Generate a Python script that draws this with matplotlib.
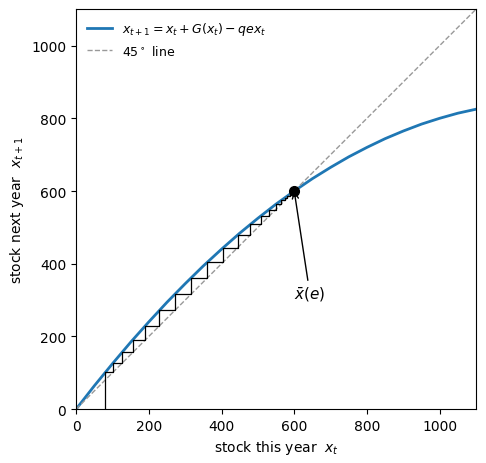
import matplotlib
matplotlib.use("Agg")
import matplotlib.pyplot as plt

# stock values, every 50 units
stock_now = [0, 50, 100, 150, 200, 250, 300, 350, 400, 450, 500, 550,
             600, 650, 700, 750, 800, 850, 900, 950, 1000, 1050, 1100]
stock_next = [0, 64, 125, 184, 240, 294, 345, 394, 440, 484, 525, 564,
              600, 634, 665, 694, 720, 744, 765, 784, 800, 814, 825]

# stock path of the staircase, year by year
path = [80, 101, 126, 156, 190, 229, 272, 317, 361, 405, 444, 479, 508,
        531, 549, 563, 574, 581, 587, 591, 593, 595, 597, 598, 599]

steady_state = 600
diag = [0, 1100]


def stair_points(values):
    xs = [values[0]]
    ys = [0]
    for i in range(len(values) - 1):
        xs.append(values[i])
        ys.append(values[i + 1])
        xs.append(values[i + 1])
        ys.append(values[i + 1])
    return xs, ys


fig, ax = plt.subplots(figsize=(4.86, 4.64), dpi=100)

ax.plot(stock_now, stock_next, color="#1f77b4", lw=2,
        label=r"$x_{t+1} = x_t + G(x_t) - qex_t$")
ax.plot(diag, diag, "--", color="0.6", lw=1, label=r"45$^\circ$ line")

sx, sy = stair_points(path)
ax.plot(sx, sy, color="k", lw=0.9)

ax.plot(steady_state, steady_state, "o", color="k", ms=7, zorder=5)
ax.annotate(r"$\bar{x}(e)$", xy=(steady_state, steady_state),
            xytext=(643, 318), ha="center", va="center", fontsize=11,
            arrowprops=dict(arrowstyle="->", color="k", lw=1,
                            shrinkA=1, shrinkB=0))

ax.set_xlim(0, 1100)
ax.set_ylim(0, 1100)
ax.set_aspect("equal")
ax.set_xlabel(r"stock this year  $x_t$")
ax.set_ylabel(r"stock next year  $x_{t+1}$")
ax.legend(loc="upper left", frameon=False, fontsize=9)

fig.subplots_adjust(left=0.156, right=0.98, bottom=0.116, top=0.978)
fig.savefig("out.png")
